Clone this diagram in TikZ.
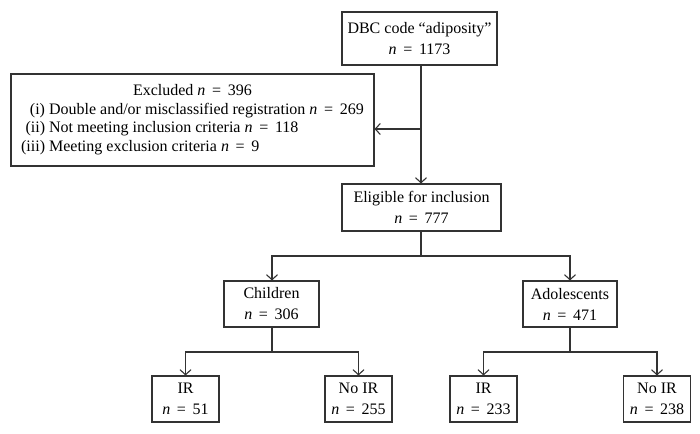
\documentclass[tikz,border=0pt]{standalone}
\usepackage{fontspec}
\setmainfont{Liberation Serif}
\usetikzlibrary{arrows.meta}
\newcommand{\nn}{\textit{n}\hspace{0.42em}=\hspace{0.42em}}
\begin{document}
\begin{tikzpicture}[x=1pt,y=-1pt,
  box/.style={draw=black!80, line width=1.1pt, inner sep=0pt, align=center,
    font=\fontsize{16}{21}\selectfont},
  conn/.style={draw=black!80, line width=1.1pt},
  arr/.style={conn, -{Straight Barb[length=5pt,width=11pt,line width=1.1pt]}}]
\useasboundingbox (0,0) rectangle (700,433);
\fill[white] (0,0) rectangle (700,433);
% nodes
\node[box, minimum width=155pt, minimum height=53pt] (top) at (419.5,38.5)
  {DBC code “adiposity”\\ \nn 1173};
\node[box, minimum width=363pt, minimum height=92pt] (excl) at (192.5,120)
  {\fontsize{16}{18.5}\selectfont
   \begin{tabular}{@{}r@{ }l@{}}
   \multicolumn{2}{c}{Excluded \nn 396}\\
   (i) & Double and/or misclassified registration \nn 269\\
   (ii) & Not meeting inclusion criteria \nn 118\\
   (iii) & Meeting exclusion criteria \nn 9
   \end{tabular}};
\node[box, minimum width=159pt, minimum height=47pt] (elig) at (421.5,207.5)
  {Eligible for inclusion\\ \nn 777};
\node[box, minimum width=95pt, minimum height=46pt] (child) at (271.5,304)
  {Children\\ \nn 306};
\node[box, minimum width=94pt, minimum height=46pt] (adol) at (570,304)
  {Adolescents\\ \nn 471};
\node[box, minimum width=67pt, minimum height=46pt] (ir1) at (185.5,399)
  {IR\\ \nn 51};
\node[box, minimum width=67pt, minimum height=46pt] (noir1) at (358.5,399)
  {No IR\\ \nn 255};
\node[box, minimum width=67pt, minimum height=46pt] (ir2) at (483.5,399)
  {IR\\ \nn 233};
\node[box, minimum width=67pt, minimum height=46pt] (noir2) at (657,399)
  {No IR\\ \nn 238};
% junction coordinates
\coordinate (j0) at (421,129);
\coordinate (j1) at (421,256);
\coordinate (j2) at (272,352);
\coordinate (j3) at (570,352);
% connectors
\draw[arr] (top.south -| j0) -- (elig.north -| j0);
\draw[arr] (j0) -- (excl.east |- j0);
\draw[conn] (elig.south -| j1) -- (j1);
\draw[arr] (j1) -| (child.north -| j2);
\draw[arr] (j1) -| (adol.north -| j3);
\draw[conn] (child.south -| j2) -- (j2);
\draw[arr] (j2) -| (ir1.north);
\draw[arr] (j2) -| (noir1.north);
\draw[conn] (adol.south -| j3) -- (j3);
\draw[arr] (j3) -| (ir2.north);
\draw[arr] (j3) -| (noir2.north);
\end{tikzpicture}
\end{document}
